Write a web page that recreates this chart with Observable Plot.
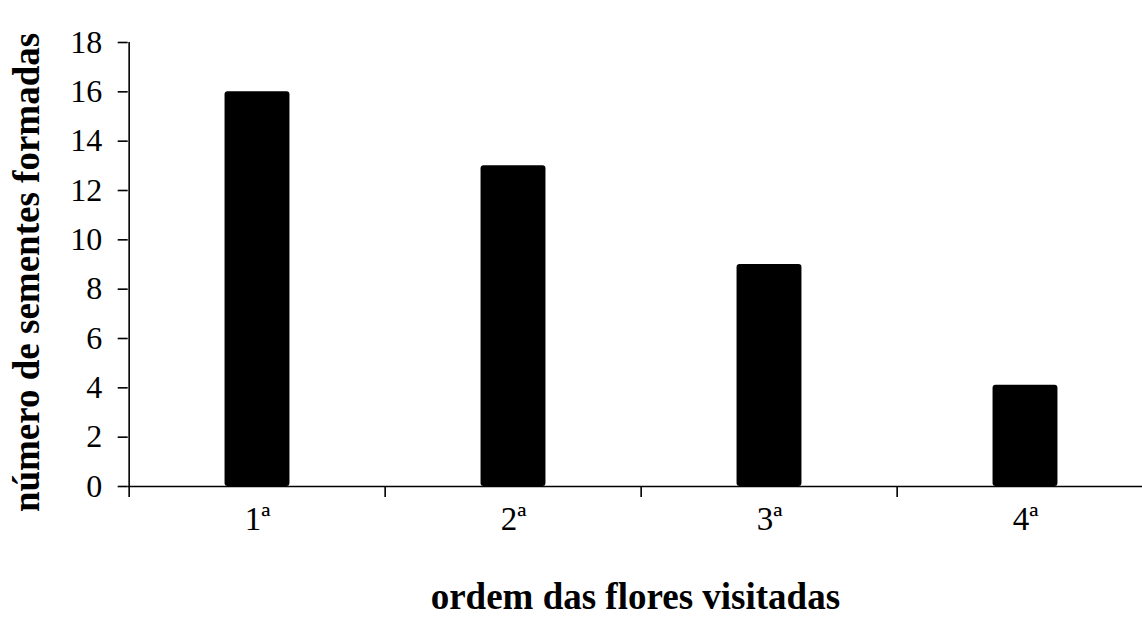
<!DOCTYPE html>
<html>
<head>
<meta charset="utf-8">
<script src="https://cdn.jsdelivr.net/npm/d3@7"></script>
<script src="https://cdn.jsdelivr.net/npm/@observablehq/plot@0.6"></script>
<style>
  html, body { margin: 0; padding: 0; background: #fff; overflow: hidden; }
</style>
</head>
<body>
<div id="chart"></div>
<script>
const categories = ["1ª", "2ª", "3ª", "4ª"];
const seeds = [16, 13, 9, 4.1];
const yTicks = [0, 2, 4, 6, 8, 10, 12, 14, 16, 18];
const xTitle = "ordem das flores visitadas";
const yTitle = "número de sementes formadas";

const data = categories.map((c, i) => ({ordem: c, sementes: seeds[i]}));

const W = 1142, H = 629;
const left = 127.7, right = 1154.5;
const bw = (right - left) / categories.length;
const barW = 65.6;
const inset = (bw - barW) / 2;

const chart = Plot.plot({
  width: W,
  height: H,
  marginLeft: left,
  marginRight: 0,
  marginTop: 42,
  marginBottom: 143,
  style: {fontFamily: "'Liberation Serif', 'Times New Roman', serif", fontSize: "32px", color: "#000", background: "#fff", overflow: "hidden"},
  x: {domain: categories, range: [left, right], padding: 0, axis: null},
  y: {domain: [0, 18], axis: null},
  marks: [
    Plot.barY(data, {x: "ordem", y: "sementes", fill: "#000", insetLeft: inset, insetRight: inset, rx: 3}),
    Plot.ruleY([0], {stroke: "#000", strokeWidth: 1.6}),
    Plot.ruleX([categories[0]], {y1: 0, y2: 18, dx: -bw / 2, stroke: "#000", strokeWidth: 1.6}),
    Plot.axisY({ticks: yTicks, tickSize: 10, tickPadding: 16, label: null, strokeWidth: 1.6, fontSize: 32}),
    Plot.axisX({tickSize: 11, tickFormat: () => "", dx: -bw / 2, label: null, strokeWidth: 1.6}),
    Plot.axisX({tickSize: 0, tickPadding: 20, label: null, fontSize: 33}),
    Plot.text([yTitle], {frameAnchor: "left", rotate: -90, dx: -101, dy: 8, textAnchor: "middle", lineAnchor: "middle", fontWeight: "bold", fontSize: 37, fill: "#000"}),
    Plot.text([xTitle], {frameAnchor: "bottom", dy: 111, textAnchor: "middle", fontWeight: "bold", fontSize: 37, fill: "#000", lineAnchor: "middle"})
  ]
});
document.getElementById("chart").appendChild(chart);
</script>
</body>
</html>
